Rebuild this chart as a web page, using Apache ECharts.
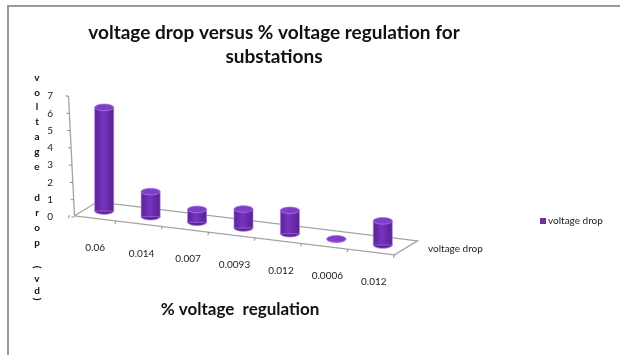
<!DOCTYPE html>
<html><head><meta charset="utf-8">
<script src="https://cdn.jsdelivr.net/npm/echarts@6/dist/echarts.min.js"></script>
<style>html,body{margin:0;padding:0;background:#fff}#c{width:620px;height:355px}</style>
</head><body><div id="c"></div>
<script>
// ---- data ----
const regulation = ['0.06', '0.014', '0.007', '0.0093', '0.012', '0.0006', '0.012'];
const voltageDrop = [6.0, 1.45, 0.75, 1.1, 1.35, 0.03, 1.4];
const yTickMin = 0, yTickMax = 7, yTickStep = 1;
const seriesName = 'voltage drop';
const titleLines = ['voltage drop versus % voltage regulation for', 'substations'];
const xTitle = '% voltage  regulation';
const yTitle = 'voltage drop (vd)';
const depthLabel = 'voltage drop';

// ---- style / layout ----
const FONT = 'Lato, "Open Sans", sans-serif';
const SLOPE = 0.122;        // floor perspective slope
const BASE = -8.8;          // offset at grid left
const HALF_DEPTH = [11.5, -7];
const PURPLE = '#7030A0';
const yTitleY = [78, 93, 107, 122, 137, 152, 167, null, 198, 213, 228, 243, null, 267, 279, 291, 299];

function shear(x, gl) { return BASE + SLOPE * (x - gl); }

const chart = echarts.init(document.getElementById('c'), null, {renderer: 'canvas'});

function renderBar(params, api) {
  const cs = params.coordSys;
  const i = api.value(0), v = api.value(1);
  const b = api.coord([i, 0]);
  const t = api.coord([i, v]);
  const bw = api.size([1, 0])[0];
  const w = bw * 0.41, rx = w / 2, ry = 3.3;
  const off = shear(b[0], cs.x);
  const cx = b[0], yb = b[1] + off, yt = t[1] + off;
  const grad = new echarts.graphic.LinearGradient(0, 0, 1, 0, [
    {offset: 0, color: '#5a2294'}, {offset: 0.45, color: '#7634bf'}, {offset: 1, color: '#58208f'}
  ]);
  return {type: 'group', children: [
    {type: 'ellipse', shape: {cx: cx, cy: yb, rx: rx, ry: ry}, style: {fill: '#5c2494', stroke: 'rgba(175,125,235,0.75)', lineWidth: 1}},
    {type: 'rect', shape: {x: cx - rx, y: yt, width: w, height: Math.max(0, yb - yt)}, style: {fill: grad, stroke: 'rgba(175,125,235,0.6)', lineWidth: 1}},
    {type: 'ellipse', shape: {cx: cx, cy: yt, rx: rx, ry: ry}, style: {fill: '#7d40c4', stroke: 'rgba(175,125,235,0.75)', lineWidth: 1}}
  ]};
}

function renderFloor(params, api) {
  const cs = params.coordSys;
  const gl = cs.x, gr = cs.x + cs.width;
  const y0 = api.coord([0, 0])[1];
  const bw = api.size([1, 0])[0];
  const mid = x => [x, y0 + shear(x, gl)];
  const back = x => { const m = mid(x); return [m[0] + HALF_DEPTH[0], m[1] + HALF_DEPTH[1]]; };
  const front = x => { const m = mid(x); return [m[0] - HALF_DEPTH[0], m[1] - HALF_DEPTH[1]]; };
  const xl = gl + 5, xr = gr;
  const bl = back(xl), br = back(xr), fl = front(xl), fr = front(xr);
  const ls = {stroke: '#a3a3a3', lineWidth: 1.3, fill: null};
  const children = [
    {type: 'polyline', shape: {points: [fl, bl, br, fr, fl]}, style: ls}
  ];
  for (let k = 0; k <= regulation.length; k++) {
    const f = front(gl + k * bw);
    children.push({type: 'line', shape: {x1: f[0], y1: f[1], x2: f[0] - 1, y2: f[1] + 3}, style: {stroke: '#8a8a8a', lineWidth: 1}});
  }
  const yTop = api.coord([0, yTickMax])[1];
  const topPt = [fl[0] - 6, yTop];
  children.push({type: 'line', shape: {x1: fl[0], y1: fl[1], x2: topPt[0], y2: topPt[1]}, style: {stroke: '#a3a3a3', lineWidth: 1.3}});
  for (let v = yTickMin; v <= yTickMax; v += yTickStep) {
    const yy = api.coord([0, v])[1];
    const frac = (fl[1] - yy) / (fl[1] - yTop);
    const xx = fl[0] - 6 * frac;
    children.push({type: 'line', shape: {x1: xx - 3, y1: yy, x2: xx, y2: yy}, style: {stroke: '#8a8a8a', lineWidth: 1}});
  }
  return {type: 'group', children: children};
}

const xRich = {};
regulation.forEach((_, i) => {
  xRich['a' + i] = {fontSize: 10, fontFamily: FONT, color: '#222', padding: [18 + 5.6 * i, 18, 0, 0]};
});

const graphics = [
  {type: 'line', shape: {x1: 8, y1: 6, x2: 620, y2: 6}, style: {stroke: '#9a9a9a', lineWidth: 2}},
  {type: 'line', shape: {x1: 8, y1: 5, x2: 8, y2: 355}, style: {stroke: '#9a9a9a', lineWidth: 2}}
];
titleLines.forEach((t, k) => {
  graphics.push({type: 'text', x: 274, y: 33 + 24 * k, style: {text: t, font: 'bold 19px ' + FONT, fill: '#111', textAlign: 'center', textVerticalAlign: 'middle'}});
});
graphics.push({type: 'text', x: 240, y: 310, style: {text: xTitle, font: 'bold 17px ' + FONT, fill: '#111', textAlign: 'center', textVerticalAlign: 'middle'}});
graphics.push({type: 'text', x: 428, y: 249, style: {text: depthLabel, font: '10px ' + FONT, fill: '#222', textAlign: 'left', textVerticalAlign: 'middle'}});
yTitle.split('').forEach((ch, k) => {
  if (ch === ' ' || yTitleY[k] == null) return;
  const isParen = ch === '(' || ch === ')';
  graphics.push({type: 'text', x: 37, y: yTitleY[k], rotation: isParen ? -Math.PI / 2 : 0,
    style: {text: ch, font: 'bold 10px ' + FONT, fill: '#111', textAlign: 'center', textVerticalAlign: 'middle'}});
});

chart.setOption({
  animation: false,
  backgroundColor: '#fff',
  grid: {left: 81, right: 214, top: 96, bottom: 138, containLabel: false},
  legend: {data: [seriesName], left: 540, top: 216, padding: 0, icon: 'rect', itemWidth: 6, itemHeight: 6,
    textStyle: {fontSize: 10, fontFamily: FONT, color: '#222', padding: [0, 0, 0, -3]}},
  xAxis: {type: 'category', data: regulation, axisLine: {show: false}, axisTick: {show: false},
    axisLabel: {margin: 8, interval: 0, formatter: (v, i) => '{a' + i + '|' + v + '}', rich: xRich}},
  yAxis: {type: 'value', min: yTickMin, max: yTickMax, interval: yTickStep,
    axisLine: {show: false}, axisTick: {show: false}, splitLine: {show: false},
    axisLabel: {margin: 28, fontSize: 10, fontFamily: FONT, color: '#222'}},
  graphic: graphics,
  series: [
    {type: 'custom', name: 'floor', silent: true, renderItem: renderFloor, data: [[0, 0]], z: 1},
    {type: 'custom', name: seriesName, renderItem: renderBar, itemStyle: {color: PURPLE},
      data: voltageDrop.map((v, i) => [i, v]), z: 3}
  ]
});
</script></body></html>
